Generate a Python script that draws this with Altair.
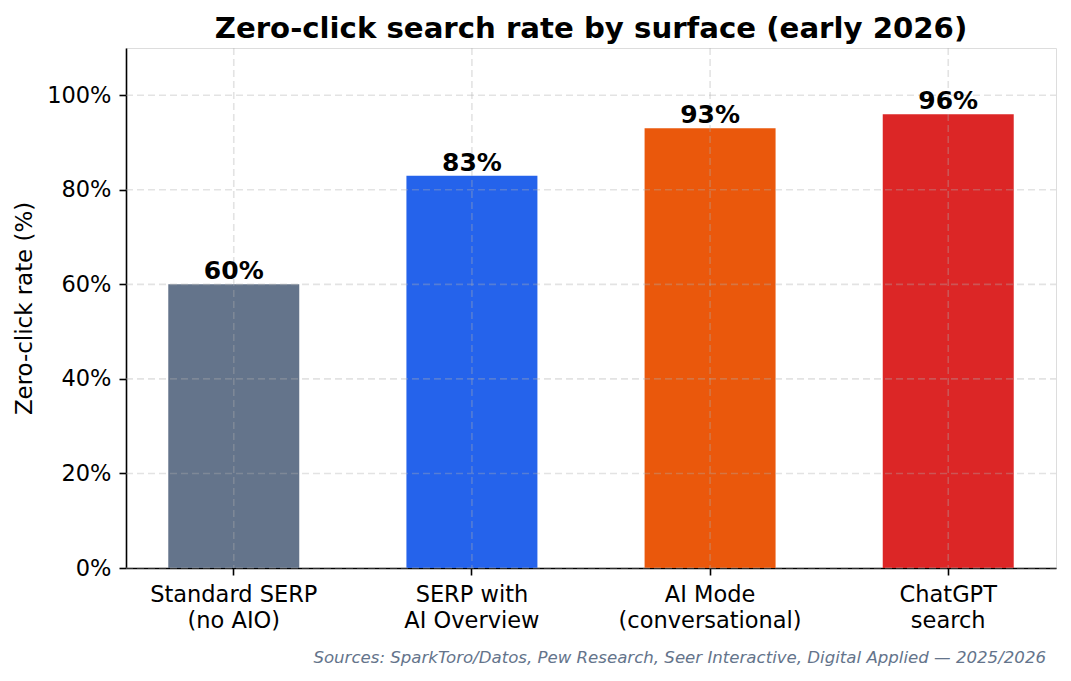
import altair as alt
import pandas as pd

categories = ["Standard SERP\n(no AIO)", "SERP with\nAI Overview", "AI Mode\n(conversational)", "ChatGPT\nsearch"]
values = [60, 83, 93, 96]
colors = ["#64748b", "#2563eb", "#ea580c", "#dc2626"]
labels = ["60%", "83%", "93%", "96%"]
y_ticks = [0, 20, 40, 60, 80, 100]

df = pd.DataFrame({"cat": categories, "val": values, "color": colors, "lab": labels})
grid_df = pd.DataFrame({"t": y_ticks})

FONT = "DejaVu Sans"

xscale = alt.Scale(domain=categories, paddingInner=0.45, paddingOuter=0.1775)
yscale = alt.Scale(domain=[0, 110], nice=False, zero=True)

base = alt.Chart(df)

bars = base.mark_bar().encode(
    x=alt.X("cat:N", scale=xscale, sort=None,
            axis=alt.Axis(title=None, labelExpr="split(datum.label, '\\n')",
                          labelAngle=0, labelFont=FONT, labelFontSize=22.5,
                          labelColor="#000000", labelLineHeight=26, labelLimit=0,
                          labelPadding=8, tickSize=7, tickWidth=1.6,
                          tickColor="#000000", domainColor="#000000",
                          domainWidth=1.6, grid=False)),
    y=alt.Y("val:Q", scale=yscale,
            axis=alt.Axis(title="Zero-click rate (%)", values=y_ticks,
                          labelExpr="datum.value + '%'", labelFont=FONT,
                          labelFontSize=22.5, labelColor="#000000",
                          labelPadding=8, tickSize=7, tickWidth=1.6,
                          tickColor="#000000", domainColor="#000000",
                          domainWidth=1.6, grid=False, titleFont=FONT,
                          titleFontSize=22.9, titleFontWeight="normal",
                          titleColor="#000000", titlePadding=10)),
    color=alt.Color("color:N", scale=None),
)

vgrid = base.mark_rule(strokeDash=[7, 4], stroke="#b0b0b0", opacity=0.35, strokeWidth=1.6).encode(
    x=alt.X("cat:N", scale=xscale, sort=None),
    y=alt.value(0),
    y2=alt.value(520),
)

hgrid = alt.Chart(grid_df).mark_rule(strokeDash=[7, 4], stroke="#b0b0b0", opacity=0.35, strokeWidth=1.6).encode(
    y=alt.Y("t:Q", scale=yscale),
    x=alt.value(0),
    x2=alt.value(930),
)

texts = base.mark_text(font=FONT, fontSize=25, fontWeight="bold", color="#000000",
                       baseline="alphabetic", dy=-5).encode(
    x=alt.X("cat:N", scale=xscale, sort=None),
    y=alt.Y("val:Q", scale=yscale),
    text="lab:N",
)

footer = alt.Chart(pd.DataFrame({"s": ["Sources: SparkToro/Datos, Pew Research, Seer Interactive, Digital Applied \u2014 2025/2026"]})).mark_text(
    font=FONT, fontSize=16.6, fontStyle="italic", color="#64748b", align="right", baseline="alphabetic"
).encode(
    text="s:N",
    x=alt.value(920),
    y=alt.value(615),
)

chart = alt.layer(bars, vgrid, hgrid, texts, footer).properties(
    width=930,
    height=520,
    padding={"left": 118, "top": 40, "right": 7, "bottom": 100},
    autosize=alt.AutoSizeParams(type="none"),
    title=alt.TitleParams("Zero-click search rate by surface (early 2026)", font=FONT,
                          fontSize=29.2, fontWeight="bold", color="#000000",
                          anchor="middle", offset=3),
).configure_view(stroke=None).configure(background="#ffffff")

chart.save("out.html", embed_options={"renderer": "svg", "actions": False})
